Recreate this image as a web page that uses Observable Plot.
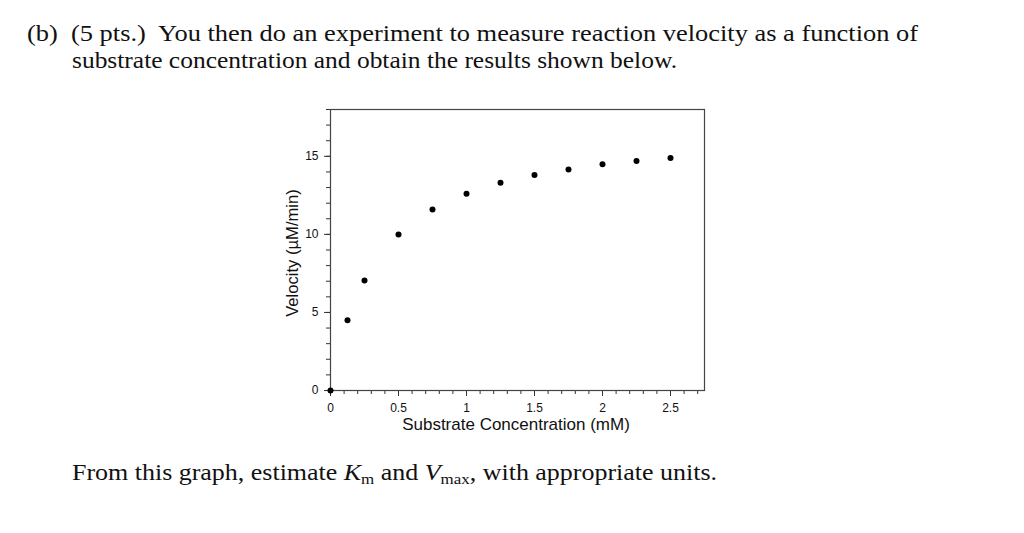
<!DOCTYPE html>
<html>
<head>
<meta charset="utf-8">
<script src="https://cdn.jsdelivr.net/npm/d3@7"></script>
<script src="https://cdn.jsdelivr.net/npm/@observablehq/plot@0.6"></script>
<style>
  html, body { margin: 0; padding: 0; background: #fff; width: 1024px; height: 533px; overflow: hidden; }
  .txt { position: absolute; font-family: "Liberation Serif", "DejaVu Serif", serif; font-size: 23px; color: #111; white-space: nowrap; transform-origin: 0 0; }
  #chart { position: absolute; left: 0; top: 90px; }
  sub { font-size: 15px; vertical-align: -4px; line-height: 0; }
</style>
</head>
<body>
<div class="txt" id="q1" data-w="891" style="left:27px; top:21px;">(b)&nbsp; (5 pts.)&nbsp; You then do an experiment to measure reaction velocity as a function of</div>
<div class="txt" id="q2" data-w="605" style="left:72px; top:48px;">substrate concentration and obtain the results shown below.</div>
<div class="txt" id="q3" data-w="645" style="left:72px; top:460px;">From this graph, estimate <i>K</i><sub>m</sub> and <i>V</i><sub>max</sub>, with appropriate units.</div>
<div id="chart"></div>
<script>
const concentration = [0, 0.125, 0.25, 0.5, 0.75, 1.0, 1.25, 1.5, 1.75, 2.0, 2.25, 2.5];
const velocity = [0, 4.5, 7.05, 10.0, 11.6, 12.6, 13.3, 13.8, 14.15, 14.5, 14.7, 14.9];
const xMajorTicks = [0, 0.5, 1, 1.5, 2, 2.5];
const xMinorTicks = [0,0.1,0.2,0.3,0.4,0.5,0.6,0.7,0.8,0.9,1,1.1,1.2,1.3,1.4,1.5,1.6,1.7,1.8,1.9,2,2.1,2.2,2.3,2.4,2.5,2.6,2.7];
const yMajorTicks = [0, 5, 10, 15];
const yMinorTicks = [0,1,2,3,4,5,6,7,8,9,10,11,12,13,14,15,16,17,18];
const xLabel = "Substrate Concentration (mM)";
const yLabel = "Velocity (µM/min)";

// stretch the serif text lines to the reference line widths
document.querySelectorAll(".txt").forEach(el => {
  const target = +el.dataset.w;
  const w = el.getBoundingClientRect().width;
  if (w > 0) el.style.transform = `scaleX(${target / w})`;
});

const data = concentration.map((c, i) => ({c, v: velocity[i]}));

const chart = Plot.plot({
  width: 1024,
  height: 360,
  marginLeft: 330,
  marginRight: 320,
  marginTop: 19,
  marginBottom: 60,
  style: {fontFamily: "Liberation Sans, Arial, sans-serif", fontSize: "12px", color: "#111", background: "#fff"},
  x: {domain: [0, 2.75]},
  y: {domain: [0, 18]},
  marks: [
    Plot.axisX(xMinorTicks, {tickSize: 4, text: null, label: null, stroke: "#333"}),
    Plot.axisX(xMajorTicks, {tickSize: 6, tickPadding: 7, stroke: "#333", fontSize: 12, tickFormat: d => String(d), label: null}),
    Plot.axisY(yMinorTicks, {tickSize: 4, text: null, label: null, stroke: "#333"}),
    Plot.axisY(yMajorTicks, {tickSize: 6, tickPadding: 6, stroke: "#333", fontSize: 12, tickFormat: d => String(d), label: null}),
    Plot.frame({stroke: "#444", strokeWidth: 1.2}),
    Plot.dot(data, {x: "c", y: "v", r: 3, fill: "black", stroke: null})
  ]
});
document.getElementById("chart").appendChild(chart);

const svg = d3.select(chart);
svg.append("text")
  .attr("x", 516).attr("y", 340)
  .attr("text-anchor", "middle")
  .attr("font-size", 17)
  .attr("font-family", "Liberation Sans, Arial, sans-serif")
  .attr("fill", "#111")
  .text(xLabel);
svg.append("text")
  .attr("transform", "translate(298,163) rotate(-90)")
  .attr("text-anchor", "middle")
  .attr("font-size", 16.6)
  .attr("font-family", "Liberation Sans, Arial, sans-serif")
  .attr("fill", "#111")
  .text(yLabel);
</script>
</body>
</html>
